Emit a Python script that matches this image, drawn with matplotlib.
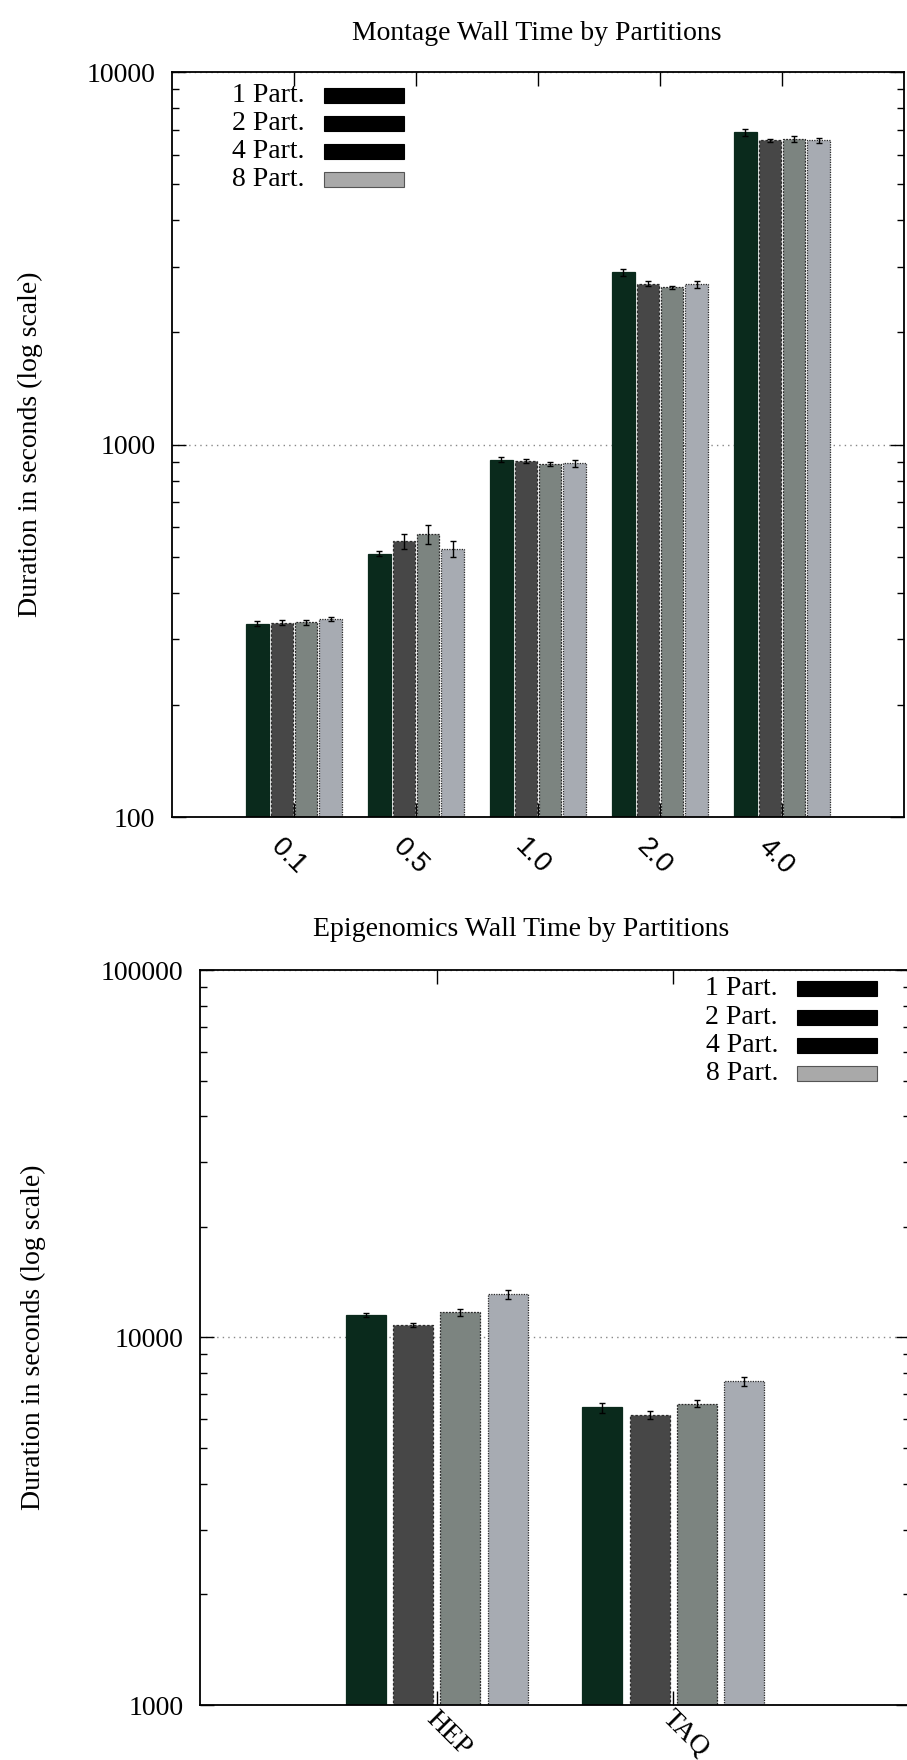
import matplotlib
matplotlib.use("Agg")
import matplotlib.pyplot as plt
from matplotlib.patches import Rectangle
from matplotlib.ticker import LogLocator, NullFormatter
from matplotlib.transforms import ScaledTranslation
import numpy as np

# ---------------- data ----------------
series = ["1 Part.", "2 Part.", "4 Part.", "8 Part."]

montage_cats = ["0.1", "0.5", "1.0", "2.0", "4.0"]
montage_p1 = [330, 509, 910, 2900, 6900]
montage_p2 = [332, 550, 905, 2700, 6550]
montage_p4 = [333, 574, 885, 2640, 6600]
montage_p8 = [340, 525, 890, 2690, 6550]
montage_e1 = [5, 8, 15, 60, 150]
montage_e2 = [5, 25, 12, 40, 60]
montage_e4 = [6, 35, 10, 30, 120]
montage_e8 = [5, 25, 20, 60, 100]

epi_cats = ["HEP", "TAQ"]
epi_p1 = [11500, 6450]
epi_p2 = [10800, 6150]
epi_p4 = [11700, 6600]
epi_p8 = [13100, 7600]
epi_e1 = [150, 200]
epi_e2 = [120, 150]
epi_e4 = [250, 150]
epi_e8 = [350, 200]

colors = ["#0a2a1c", "#474747", "#7c8480", "#a7abb2"]
edge_styles = ["solid", (0, (2, 1.5)), (0, (1.5, 1)), (0, (1, 1))]

W, H = 907, 1760
fig = plt.figure(figsize=(W / 100, H / 100), dpi=100)
plt.rcParams["font.family"] = ["Liberation Serif", "DejaVu Serif"]
FS = 20


def fx(x):
    return x / W


def fy(y):
    return 1 - y / H


def make_panel(rect, cats, vals, errs, ylim, bw, title, title_xy, legend_xy,
               ylabel_xy, lab_off, lab_family):
    ax = fig.add_axes(rect)
    x = np.arange(len(cats))
    step = 0.2
    for i, (v, e) in enumerate(zip(vals, errs)):
        xs = x + (i - 1.5) * step
        ax.bar(xs, v, width=bw, color=colors[i], edgecolor="#2a2a2a" if i else colors[0],
               linewidth=0.9, linestyle=edge_styles[i], zorder=2)
        ax.errorbar(xs, v, yerr=e, fmt="none", ecolor="black", elinewidth=1,
                    capsize=2, capthick=1, zorder=3)
    ax.set_yscale("log")
    ax.set_ylim(*ylim)
    ax.set_xlim(-1, len(cats))
    ax.yaxis.set_minor_locator(LogLocator(base=10, subs=np.arange(2, 10), numticks=20))
    ax.yaxis.set_minor_formatter(NullFormatter())
    k0, k1 = int(round(np.log10(ylim[0]))), int(round(np.log10(ylim[1])))
    ax.set_yticks([10 ** k for k in range(k0, k1 + 1)])
    ax.set_yticklabels([str(10 ** k) for k in range(k0, k1 + 1)], fontsize=FS)
    ax.set_xticks(x)
    ax.set_xticklabels([])
    # rotated category labels, gnuplot style
    off = ScaledTranslation(lab_off[0] / 100, -lab_off[1] / 100, fig.dpi_scale_trans)
    for xi, c in zip(x, cats):
        ax.text(xi, 0, c, transform=ax.get_xaxis_transform() + off, fontsize=FS,
                rotation=-45, ha="center", va="center", rotation_mode="anchor",
                family=lab_family, clip_on=False)
    ax.tick_params(axis="both", which="major", direction="in", length=10, width=1,
                   top=True, right=True)
    ax.tick_params(axis="y", which="major", pad=12)
    ax.tick_params(axis="y", which="minor", direction="in", length=5, width=1,
                   left=True, right=True)
    ax.grid(axis="y", which="major", linestyle=(0, (1, 3)), color="#888888", linewidth=1)
    ax.set_axisbelow(True)
    for s in ax.spines.values():
        s.set_linewidth(1.3)
        s.set_zorder(5)
    fig.text(fx(ylabel_xy[0]), fy(ylabel_xy[1]), "Duration in seconds (log scale)",
             fontsize=FS, rotation=90, ha="center", va="center")
    fig.text(fx(title_xy[0]), fy(title_xy[1]), title, fontsize=FS, ha="center", va="center")
    # legend (gnuplot style: text then sample box)
    tx, sx0, sx1, rows = legend_xy
    for i, name in enumerate(series):
        y = rows[i]
        fig.text(fx(tx), fy(y), name, fontsize=FS, ha="right", va="center")
        fc = "black" if i < 3 else "#a9a9a9"
        fig.add_artist(Rectangle((fx(sx0), fy(y + 8)), fx(sx1 - sx0), 15 / H,
                                 transform=fig.transFigure, facecolor=fc,
                                 edgecolor="#555555" if i == 3 else "black", linewidth=0.8))
    return ax


ax1 = make_panel([fx(172), fy(817), fx(904 - 172), (817 - 72) / H],
                 montage_cats,
                 [montage_p1, montage_p2, montage_p4, montage_p8],
                 [montage_e1, montage_e2, montage_e4, montage_e8],
                 (100, 10000), 0.185,
                 "Montage Wall Time by Partitions", (537, 33),
                 (305, 324, 404, [95, 123, 151, 179]),
                 (30, 444), (-6, 40), ["Liberation Sans", "DejaVu Sans"])

ax2 = make_panel([fx(200), fy(1705), fx(910 - 200), (1705 - 970) / H],
                 epi_cats,
                 [epi_p1, epi_p2, epi_p4, epi_p8],
                 [epi_e1, epi_e2, epi_e4, epi_e8],
                 (1000, 100000), 0.17,
                 "Epigenomics Wall Time by Partitions", (521, 929),
                 (778, 797, 877, [988, 1017, 1045, 1073]),
                 (33, 1337), (12, 29), ["Liberation Serif", "DejaVu Serif"])

fig.savefig("out.png", dpi=100)
